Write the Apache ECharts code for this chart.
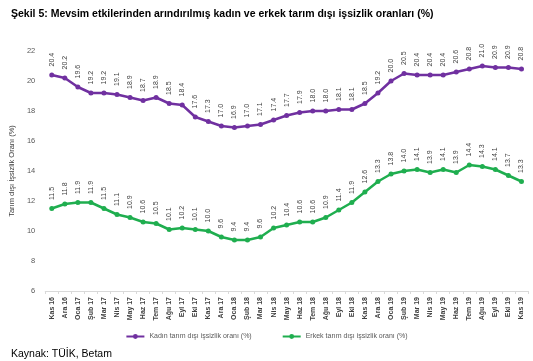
<!DOCTYPE html>
<html><head><meta charset="utf-8">
<script src="https://cdn.jsdelivr.net/npm/echarts@6/dist/echarts.min.js"></script>
<style>html,body{margin:0;padding:0;background:#fff}#c{width:533px;height:361px}</style>
</head><body><div id="c"></div>
<script>
var categories = ['Kas 16','Ara 16','Oca 17','Şub 17','Mar 17','Nis 17','May 17','Haz 17','Tem 17','Ağu 17','Eyl 17','Eki 17','Kas 17','Ara 17','Oca 18','Şub 18','Mar 18','Nis 18','May 18','Haz 18','Tem 18','Ağu 18','Eyl 18','Eki 18','Kas 18','Ara 18','Oca 19','Şub 19','Mar 19','Nis 19','May 19','Haz 19','Tem 19','Ağu 19','Eyl 19','Eki 19','Kas 19'];
var kadin = [20.4,20.2,19.6,19.2,19.2,19.1,18.9,18.7,18.9,18.5,18.4,17.6,17.3,17.0,16.9,17.0,17.1,17.4,17.7,17.9,18.0,18.0,18.1,18.1,18.5,19.2,20.0,20.5,20.4,20.4,20.4,20.6,20.8,21.0,20.9,20.9,20.8];
var erkek = [11.5,11.8,11.9,11.9,11.5,11.1,10.9,10.6,10.5,10.1,10.2,10.1,10.0,9.6,9.4,9.4,9.6,10.2,10.4,10.6,10.6,10.9,11.4,11.9,12.6,13.3,13.8,14.0,14.1,13.9,14.1,13.9,14.4,14.3,14.1,13.7,13.3];
var seriesNames = ['Kadın tarım dışı işsizlik oranı (%)','Erkek tarım dışı işsizlik oranı (%)'];
var yTicks = {min: 6, max: 22, interval: 2};

var chart = echarts.init(document.getElementById('c'));
var lbl = {show: true, position: 'top', rotate: 90, align: 'left', verticalAlign: 'middle', distance: 6,
  fontSize: 7, color: '#404040', fontFamily: 'Liberation Sans', formatter: function(p){return p.value.toFixed(1);}};
chart.setOption({
  animation: false,
  title: [
    {text: 'Şekil 5: Mevsim etkilerinden arındırılmış kadın ve erkek tarım dışı işsizlik oranları (%)', left: 6, top: 4,
     textStyle: {fontSize: 10.5, fontWeight: 'bold', color: '#000', fontFamily: 'Liberation Sans'}},
    {text: 'Kaynak: TÜİK, Betam', left: 6, top: 344, textStyle: {fontSize: 10.5, fontWeight: 'normal', color: '#000', fontFamily: 'Liberation Sans'}}
  ],
  grid: {left: 40, right: 5, top: 51, bottom: 70},
  legend: {bottom: 16, left: 'center', itemWidth: 18, itemHeight: 6, itemGap: 30,
    textStyle: {fontSize: 7, color: '#595959', fontFamily: 'Liberation Sans'},
    data: seriesNames},
  xAxis: {type: 'category', data: categories, boundaryGap: true,
    axisLine: {lineStyle: {color: '#d9d9d9'}},
    axisTick: {show: true, lineStyle: {color: '#d9d9d9'}, length: 3},
    axisLabel: {rotate: 90, interval: 0, fontSize: 7, fontWeight: 'bold', color: '#404040', fontFamily: 'Liberation Sans', margin: 6}},
  yAxis: {type: 'value', min: yTicks.min, max: yTicks.max, interval: yTicks.interval,
    name: 'Tarım dışı İşsizlik Oranı (%)', nameLocation: 'middle', nameGap: 16,
    nameTextStyle: {fontSize: 7.5, color: '#404040', fontFamily: 'Liberation Sans'},
    axisLine: {show: false}, axisTick: {show: false}, splitLine: {show: false},
    axisLabel: {fontSize: 7.5, color: '#595959', fontFamily: 'Liberation Sans', margin: 10}},
  series: [
    {name: seriesNames[0], type: 'line', data: kadin, symbol: 'circle', symbolSize: 5,
     itemStyle: {color: '#7030a0'}, lineStyle: {width: 2.5, color: '#7030a0'}, label: lbl},
    {name: seriesNames[1], type: 'line', data: erkek, symbol: 'circle', symbolSize: 5,
     itemStyle: {color: '#1fae4f'}, lineStyle: {width: 2.5, color: '#1fae4f'}, label: lbl}
  ]
});
</script></body></html>
